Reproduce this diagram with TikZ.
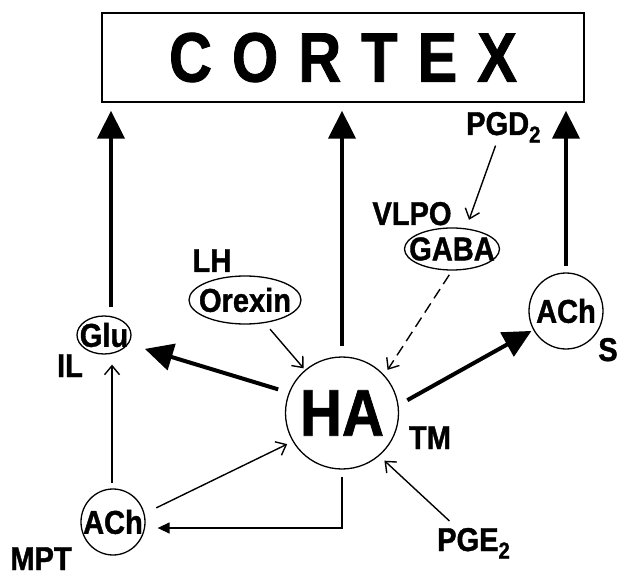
\documentclass[tikz,border=0pt]{standalone}
\usepackage{fontspec}
\setmainfont{Liberation Sans}[FakeStretch=0.88, BoldFeatures={FakeBold=1.2}]
\newfontfamily\cortexfont{Liberation Sans}[FakeStretch=0.85, BoldFeatures={FakeBold=1.2}]
\usetikzlibrary{arrows.meta, shapes.geometric}
\newcommand{\nowidth}[1]{\makebox[0pt]{#1}}
\tikzset{
  lab/.style ={inner sep=0pt, font=\fontsize{33}{33}\selectfont\bfseries},
  oval/.style={draw, ellipse, line width=1.3pt, inner sep=0pt, font=\fontsize{33}{33}\selectfont\bfseries},
  fat/.style ={-{Triangle[length=28pt,width=27pt]}, line width=4pt},
  fine/.style={-{Straight Barb[length=9pt,width=15pt]}, line width=1.4pt},
}
\begin{document}
\begin{tikzpicture}[x=1pt, y=-1pt]
\useasboundingbox (0,0) rectangle (621,577);

% ---- target ----
\node[draw, line width=1.4pt, minimum width=482pt, minimum height=89pt, inner sep=0pt,
      font=\cortexfont\fontsize{70}{70}\selectfont\bfseries] (cortex) at (343,57.5) {\spaceskip=20pt C O R T E X};

% ---- nuclei ----
\node[oval, minimum width=113pt, minimum height=112pt, font=\fontsize{66}{66}\selectfont\bfseries] (ha) at (342,413) {\nowidth{HA}};
\node[oval, minimum width=54pt, minimum height=38pt]  (glu)    at (104,335) {\nowidth{Glu}};
\node[oval, minimum width=64pt, minimum height=66pt]  (achM)   at (113,522) {\nowidth{ACh}};
\node[oval, minimum width=74pt, minimum height=76pt]  (achS)   at (566,311) {\nowidth{ACh}};
\node[oval, minimum width=112pt, minimum height=48pt] (orexin) at (245,300) {\nowidth{Orexin}};
\node[oval, minimum width=95pt, minimum height=42pt]  (gaba)   at (452,249) {\nowidth{GABA}};

% ---- region labels ----
\node[lab, anchor=base]      (lh)   at (212,272) {LH};
\node[lab, anchor=base]      (vlpo) at (412,225) {VLPO};
\node[lab, anchor=base west] (pgd)  at (466,135) {PGD\textsubscript{2}};
\node[lab, anchor=base]      (il)   at (70,377)  {IL};
\node[lab, anchor=base]      (mpt)  at (41,570)  {MPT};
\node[lab, anchor=base]      (tm)   at (430,449) {TM};
\node[lab, anchor=base]      (s)    at (608,361) {S};
\node[lab, anchor=base west] (pge)  at (437,551) {PGE\textsubscript{2}};

% ---- projections to cortex ----
\draw[fat, shorten <=8pt, shorten >=8pt] ([xshift=7pt]glu.north) -- ([xshift=7pt]glu.north |- cortex.south);
\draw[fat, shorten <=10pt, shorten >=8pt] (ha.north) -- (ha.north |- cortex.south);
\draw[fat, shorten <=6pt, shorten >=8pt] (achS.north) -- (achS.north |- cortex.south);
\draw[fat, shorten <=11pt, shorten >=17pt] (ha.159) -- (glu.-20);
\draw[fat, shorten <=10pt, shorten >=2pt] (ha.8) -- (achS.210);

% ---- inputs ----
\draw[fine, shorten <=8pt, shorten >=2pt] (orexin) -- (ha);
\draw[fine, dash pattern=on 11pt off 6pt, shorten <=5pt, shorten >=6pt] (gaba.south) -- (ha.42);
\draw[fine, shorten <=3pt, shorten >=9pt] ([xshift=-7pt]pgd.south) -- (gaba.56);
\draw[fine, shorten <=10pt, shorten >=7pt] ([xshift=-17pt]pge.north) -- (ha.-49.5);
\draw[fine, shorten <=5pt, shorten >=10pt] ([xshift=-1pt]achM.north) -- ([xshift=-1pt]achM.north |- glu.south);
\draw[fine, shorten <=13pt, shorten >=6pt] (achM.15) -- (ha.210);
\draw[fine, -{Triangle[length=12pt,width=11pt]}, shorten <=7pt, shorten >=12pt] (ha.south) |- ([yshift=-6pt]achM.east);
\end{tikzpicture}
\end{document}
